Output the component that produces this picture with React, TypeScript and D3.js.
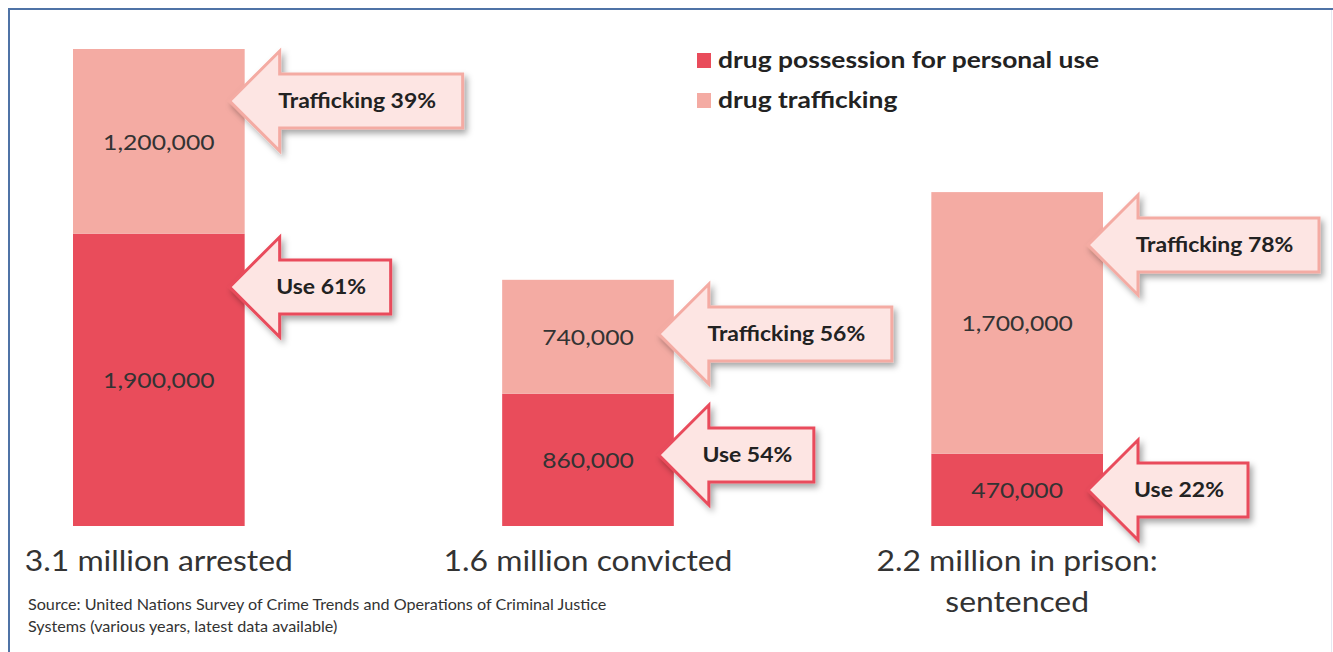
import React from "react";
import * as d3 from "d3";

// ---- data ----
const categories = ["arrested", "convicted", "prison"];
const categoryLabels = [["3.1 million arrested"], ["1.6 million convicted"], ["2.2 million in prison:", "sentenced"]];
const useValues = [1900000, 860000, 470000];
const traffickingValues = [1200000, 740000, 1700000];
const useShares = [61, 54, 22];
const traffickingShares = [39, 56, 78];
const legendLabels = ["drug possession for personal use", "drug trafficking"];
const sourceLines = [
  "Source: United Nations Survey of Crime Trends and Operations of Criminal Justice",
  "Systems (various years, latest data available)",
];

// ---- layout (not data) ----
const W = 1333;
const H = 652;
const USE_COLOR = "#e94c5b";
const TRAF_COLOR = "#f4aba3";
const ARROW_FILL = "#fde5e3";
const FONT = "Lato, 'Open Sans', sans-serif";
const trafArrowY = [101, 334, 245];
const useArrowY = [287, 455, 490];
const trafArrowLen = [233, 233, 231];
const useArrowLen = [161, 155, 160];

const x = d3.scaleBand<string>().domain(categories).range([73, 1103]).paddingInner(0.6).paddingOuter(0);
const y = d3.scaleLinear().domain([0, 3100000]).range([526, 49]);
const fmt = d3.format(",");

function SText({
  x: tx,
  y: ty,
  k,
  anchor = "start",
  size,
  weight = 400,
  fill = "#333",
  family = FONT,
  children,
}: {
  x: number;
  y: number;
  k: number;
  anchor?: string;
  size: number;
  weight?: number;
  fill?: string;
  family?: string;
  children: React.ReactNode;
}) {
  return (
    <text
      transform={`translate(${tx},${ty}) scale(${k},1)`}
      textAnchor={anchor}
      fontFamily={family}
      fontWeight={weight}
      fontSize={size}
      fill={fill}
    >
      {children}
    </text>
  );
}

function arrowPath(tipX: number, cy: number, len: number) {
  const headLen = 50;
  const headHalf = 50;
  const shaftHalf = 27;
  const p = d3.path();
  p.moveTo(tipX, cy);
  p.lineTo(tipX + headLen, cy - headHalf);
  p.lineTo(tipX + headLen, cy - shaftHalf);
  p.lineTo(tipX + len, cy - shaftHalf);
  p.lineTo(tipX + len, cy + shaftHalf);
  p.lineTo(tipX + headLen, cy + shaftHalf);
  p.lineTo(tipX + headLen, cy + headHalf);
  p.closePath();
  return p.toString();
}

function Arrow({ tipX, cy, len, stroke, label }: { tipX: number; cy: number; len: number; stroke: string; label: string }) {
  return (
    <g>
      <path d={arrowPath(tipX, cy, len)} fill={ARROW_FILL} stroke={stroke} strokeWidth={3} strokeLinejoin="miter" filter="url(#shadow)" />
      <SText x={tipX + len / 2 + 11} y={cy + 7} k={1.12} anchor="middle" size={20.5} weight={700} fill="#222">
        {label}
      </SText>
    </g>
  );
}

export default function App() {
  return (
    <svg width={W} height={H} style={{ position: "absolute", left: 0, top: 0, background: "#fff" }}>
      <defs>
        <filter id="shadow" x="-20%" y="-20%" width="150%" height="150%">
          <feDropShadow dx={3} dy={4} stdDeviation={3} floodColor="#000" floodOpacity={0.35} />
        </filter>
      </defs>
      <rect x={0} y={0} width={W} height={H} fill="#fff" />
      {/* frame */}
      <line x1={8} y1={9} x2={W} y2={9} stroke="#4f73a6" strokeWidth={2} />
      <line x1={9} y1={9} x2={9} y2={H} stroke="#4f73a6" strokeWidth={2} />
      <line x1={1331.5} y1={10} x2={1331.5} y2={H} stroke="#e6e8f2" strokeWidth={1} />

      {categories.map((c, i) => {
        const x0 = x(c)!;
        const bw = x.bandwidth();
        const cx = x0 + bw / 2;
        const uTop = y(useValues[i]);
        const tTop = y(useValues[i] + traffickingValues[i]);
        return (
          <g key={c}>
            <rect x={x0} y={uTop} width={bw} height={y(0) - uTop} fill={USE_COLOR} />
            <rect x={x0} y={tTop} width={bw} height={uTop - tTop} fill={TRAF_COLOR} />
            <SText x={cx} y={(uTop + y(0)) / 2 + 8.5} k={1.15} anchor="middle" size={21.5}>
              {fmt(useValues[i])}
            </SText>
            <SText x={cx} y={(tTop + uTop) / 2 + 8.5} k={1.15} anchor="middle" size={21.5}>
              {fmt(traffickingValues[i])}
            </SText>
            {categoryLabels[i].map((line, j) => (
              <SText key={j} x={cx} y={571 + j * 41} k={1.08} anchor="middle" size={29.5}>
                {line}
              </SText>
            ))}
          </g>
        );
      })}

      {categories.map((c, i) => {
        const tipX = x(c)! + x.bandwidth() - 15;
        return (
          <g key={"a" + c}>
            <Arrow tipX={tipX} cy={trafArrowY[i]} len={trafArrowLen[i]} stroke={TRAF_COLOR} label={`Trafficking ${traffickingShares[i]}%`} />
            <Arrow tipX={tipX} cy={useArrowY[i]} len={useArrowLen[i]} stroke={USE_COLOR} label={`Use ${useShares[i]}%`} />
          </g>
        );
      })}

      {/* legend */}
      {legendLabels.map((l, i) => (
        <g key={l}>
          <rect x={697} y={53 + i * 40} width={14} height={15} fill={i === 0 ? USE_COLOR : TRAF_COLOR} />
          <SText x={718} y={68 + i * 40} k={1.2} size={22} weight={700} fill="#222">
            {l}
          </SText>
        </g>
      ))}

      {sourceLines.map((s, i) => (
        <SText key={i} x={28} y={610 + i * 22} k={1.1} size={14.7} fill="#333">
          {s}
        </SText>
      ))}
    </svg>
  );
}
